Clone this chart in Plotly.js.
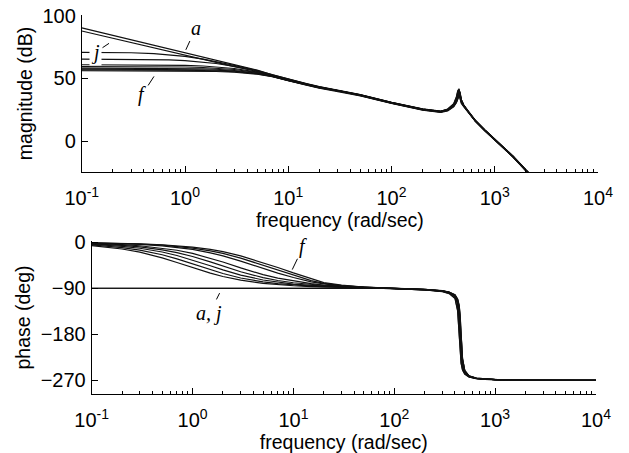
<!DOCTYPE html>
<html><head><meta charset="utf-8">
<script src="https://cdn.plot.ly/plotly-3.0.1.min.js"></script>
<style>html,body{margin:0;padding:0;background:#fff}</style>
</head><body><div id="chart" style="width:629px;height:453px"></div>
<script>
// frequency grid (rad/sec)
const freq = [0.1, 0.15, 0.2, 0.3, 0.5, 0.7, 1, 1.5, 2, 3, 5, 7, 10, 15, 20, 30, 50, 100, 200, 300, 350, 400, 425, 440, 450, 460, 475, 500, 550, 650, 800, 1000, 1500, 2000, 2500, 5000, 10000];

// magnitude (dB), curves a..j
const magA = [90.5, 87.0, 84.5, 81.0, 76.5, 73.6, 70.6, 67.1, 64.6, 61.1, 56.7, 53.0, 49.4, 45.9, 43.5, 40.9, 37.1, 31.0, 25.7, 23.9, 25.3, 29.0, 33.0, 37.5, 42.0, 37.5, 32.5, 28.8, 24.0, 16.5, 9.0, 1.5, -12.0, -23.0, -31.0, null, null];
const magJ = [88.0, 84.6, 82.1, 78.7, 74.3, 71.4, 68.5, 65.1, 62.7, 59.5, 55.6, 52.4, 49.0, 45.6, 43.2, 40.6, 36.9, 30.8, 25.5, 23.7, 25.1, 28.7, 32.7, 37.2, 41.5, 37.2, 32.3, 28.6, 23.8, 16.3, 8.8, 1.3, -12.2, -23.2, -31.2, null, null];
const magB = [70.9, 70.9, 70.8, 70.6, 69.9, 69.1, 67.7, 65.5, 63.6, 60.5, 56.3, 52.9, 49.3, 45.8, 43.3, 40.7, 37.0, 30.9, 25.6, 23.8, 25.6, 29.8, 35.2, 40.8, 37.0, 33.5, 30.5, 27.8, 23.4, 16.0, 8.6, 1.1, -12.4, -23.4, -31.4, null, null];
const magC = [65.5, 65.5, 65.4, 65.4, 65.2, 64.9, 64.3, 63.2, 62.0, 59.7, 56.0, 52.6, 49.1, 45.6, 43.1, 40.5, 36.8, 30.7, 25.4, 23.6, 24.9, 28.5, 32.4, 36.8, 41.0, 37.0, 32.0, 28.4, 23.6, 16.1, 8.6, 1.1, -12.4, -23.4, -31.4, null, null];
const magD = [61.0, 61.0, 61.0, 61.0, 60.9, 60.8, 60.5, 60.0, 59.4, 58.0, 55.2, 52.3, 48.9, 45.4, 43.0, 40.4, 36.7, 30.6, 25.3, 23.5, 24.7, 28.0, 31.3, 34.5, 37.8, 39.8, 33.0, 29.0, 24.0, 16.4, 8.9, 1.4, -12.1, -23.1, -31.1, null, null];
const magE = [59.5, 59.5, 59.5, 59.4, 59.4, 59.3, 59.2, 58.8, 58.3, 57.2, 54.8, 52.1, 48.7, 45.3, 42.9, 40.3, 36.6, 30.5, 25.2, 23.4, 24.8, 28.4, 32.3, 36.6, 40.3, 36.6, 31.8, 28.2, 23.4, 15.9, 8.4, 0.9, -12.6, -23.6, -31.6, null, null];
const magG = [58.3, 58.3, 58.3, 58.3, 58.2, 58.2, 58.0, 57.8, 57.4, 56.4, 54.3, 51.9, 48.5, 45.1, 42.7, 40.2, 36.5, 30.4, 25.1, 23.3, 25.3, 29.5, 35.0, 40.0, 36.3, 33.0, 30.0, 27.5, 23.1, 15.8, 8.3, 0.8, -12.7, -23.7, -31.7, null, null];
const magH = [57.5, 57.5, 57.5, 57.5, 57.4, 57.4, 57.3, 57.0, 56.7, 55.9, 54.0, 51.7, 48.4, 45.0, 42.6, 40.1, 36.4, 30.3, 25.0, 23.2, 24.4, 27.7, 31.0, 34.2, 37.3, 39.0, 32.7, 28.8, 23.8, 16.2, 8.7, 1.2, -12.3, -23.3, -31.3, null, null];
const magI = [56.8, 56.8, 56.8, 56.8, 56.7, 56.7, 56.6, 56.4, 56.1, 55.4, 53.7, 51.6, 48.3, 44.9, 42.5, 40.0, 36.3, 30.2, 24.9, 23.1, 24.6, 28.2, 32.0, 36.2, 39.5, 36.0, 31.5, 28.0, 23.2, 15.7, 8.2, 0.7, -12.8, -23.8, -31.8, null, null];
const magF = [56.2, 56.2, 56.2, 56.2, 56.2, 56.1, 56.0, 55.8, 55.6, 55.0, 53.4, 51.4, 48.1, 44.7, 42.3, 39.8, 36.1, 30.0, 24.7, 22.9, 24.0, 27.4, 30.6, 33.8, 36.8, 38.5, 32.5, 28.6, 23.6, 16.0, 8.5, 1.0, -12.5, -23.5, -31.5, null, null];

// phase (deg), curves a..j
const phA = [-90, -90, -90, -90, -90, -90, -90, -90, -90, -90, -90, -90, -90, -90, -90, -90, -90, -90.4, -92.5, -95.5, -98.5, -105.5, -119, -144, -181, -217, -242, -255, -262.5, -266.5, -268, -269, -269.8, -270, -270, -270, -270];
const phJ = [-90, -90, -90, -90, -90, -90, -90, -90, -90, -90, -90, -90, -90, -90, -90, -90, -90, -90.4, -92.4, -95.3, -98.2, -105, -118, -142, -180, -215, -241, -254.5, -262.3, -266.4, -268, -269, -269.8, -270, -270, -270, -270];
const phB = [-6.7, -10.0, -13.2, -19.4, -30.5, -39.5, -49.6, -60.5, -67.0, -74.2, -80.3, -83.1, -85.1, -86.7, -87.6, -88.6, -89.4, -90.7, -93, -96.2, -100, -109, -133, -181, -218, -237, -250, -258, -263.5, -267, -268.3, -269.2, -269.8, -270, -270, -270, -270];
const phC = [-5.2, -7.8, -10.3, -15.3, -24.4, -32.5, -42.3, -53.7, -61.2, -69.9, -77.6, -81.1, -83.7, -85.8, -86.9, -88.0, -89.0, -90.5, -92.5, -95.5, -98.5, -105.5, -119, -144, -181, -217, -242, -255, -262.5, -266.5, -268, -269, -269.8, -270, -270, -270, -270];
const phD = [-3.9, -5.9, -7.9, -11.7, -19.0, -25.8, -34.6, -46.0, -54.0, -64.2, -73.8, -78.3, -81.8, -84.5, -85.9, -87.4, -88.6, -90.3, -92, -95, -97.5, -103, -112, -125, -145, -181, -228, -251, -261.5, -266, -267.8, -268.8, -269.7, -270, -270, -270, -270];
const phE = [-3.0, -4.5, -6.0, -9.0, -14.7, -20.2, -27.8, -38.3, -46.5, -57.7, -69.2, -74.8, -79.2, -82.8, -84.6, -86.6, -88.2, -90.5, -92.6, -95.6, -98.8, -106, -121, -148, -183, -219, -243, -255.5, -262.7, -266.6, -268.1, -269, -269.8, -270, -270, -270, -270];
const phG = [-2.3, -3.4, -4.6, -6.8, -11.3, -15.6, -21.8, -31.0, -38.7, -50.2, -63.4, -70.3, -76.0, -81.0, -83.8, -86.2, -88.0, -90.7, -93.2, -96.5, -100.5, -110, -135, -178, -216, -236, -249.5, -257.8, -263.4, -267, -268.3, -269.2, -269.8, -270, -270, -270, -270];
const phH = [-1.4, -2.1, -2.9, -4.3, -7.1, -9.9, -14.0, -20.6, -26.6, -36.9, -51.3, -60.3, -69.0, -77.5, -81.5, -85.5, -87.8, -90.3, -92.1, -95.2, -97.8, -103.5, -113, -127, -148, -183, -229, -251.5, -261.7, -266.1, -267.9, -268.9, -269.7, -270, -270, -270, -270];
const phI = [-1.1, -1.7, -2.3, -3.4, -5.7, -8.0, -11.3, -16.7, -21.8, -31.0, -45.0, -54.5, -65.0, -75.0, -80.5, -85.0, -87.8, -90.5, -92.5, -95.4, -98.3, -105, -117, -140, -178, -214, -240, -254.5, -262.3, -266.4, -268, -269, -269.8, -270, -270, -270, -270];
const phF = [-1.0, -1.4, -1.9, -2.9, -4.8, -6.7, -9.5, -14.0, -18.4, -26.6, -39.8, -49.4, -60.0, -72.0, -79.0, -84.0, -87.5, -90.3, -92, -94.8, -97.3, -102.5, -111, -123, -142, -179, -227, -250.5, -261.3, -265.9, -267.7, -268.8, -269.7, -270, -270, -270, -270];

const magSeries = [magA, magJ, magB, magC, magD, magE, magG, magH, magI, magF];
const phaseSeries = [phA, phJ, phB, phC, phD, phE, phG, phH, phI, phF];

// axis ticks
const majorTicks = [0.1, 1, 10, 100, 1000, 10000];
const majorTickText = ['10<sup>-1</sup>', '10<sup>0</sup>', '10<sup>1</sup>', '10<sup>2</sup>', '10<sup>3</sup>', '10<sup>4</sup>'];
const magTicks = [0, 50, 100];
const phaseTicks = [0, -90, -180, -270];
const phaseTickText = ['0', '\u221290', '\u2212180', '\u2212270'];
const minorTicks = [];
for (let d = 0.1; d < 10000; d *= 10) for (let k = 2; k <= 9; k++) minorTicks.push(+(d * k).toPrecision(3));

const FONT = 'Liberation Sans, Arial, Helvetica, sans-serif';
const SERIF = 'Liberation Serif, Times New Roman, serif';
const lineCol = '#111';

const traces = [];
magSeries.forEach(m => traces.push({x: freq, y: m, xaxis: 'x', yaxis: 'y', mode: 'lines', line: {color: lineCol, width: 1.2}, hoverinfo: 'skip', showlegend: false}));
phaseSeries.forEach(p => traces.push({x: freq, y: p, xaxis: 'x2', yaxis: 'y2', mode: 'lines', line: {color: lineCol, width: 1.2}, hoverinfo: 'skip', showlegend: false}));

function xax(domain, anchor) {
  return {type: 'log', range: [-1, 4], domain: domain, anchor: anchor,
    showline: true, linecolor: '#000', linewidth: 1, mirror: false,
    ticks: 'inside', ticklen: 6, tickwidth: 1, tickcolor: '#000',
    tickmode: 'array', tickvals: majorTicks, ticktext: majorTickText,
    minor: {tickmode: 'array', tickvals: minorTicks, ticks: 'inside', ticklen: 3, tickwidth: 1, tickcolor: '#000', showgrid: false},
    showgrid: false, zeroline: false, ticklabelstandoff: 8,
    tickfont: {family: FONT, size: 20, color: '#000'},
    title: {text: 'frequency (rad/sec)', font: {family: FONT, size: 19.5, color: '#000'}, standoff: 0}};
}
function yax(domain, anchor, range, tv, tt, title) {
  const o = {range: range, domain: domain, anchor: anchor,
    showline: true, linecolor: '#000', linewidth: 1, mirror: false,
    ticks: 'inside', ticklen: 6, tickwidth: 1, tickcolor: '#000',
    tickmode: 'array', tickvals: tv,
    showgrid: false, zeroline: false, ticklabelstandoff: 1,
    tickfont: {family: FONT, size: 20, color: '#000'},
    title: {text: title, font: {family: FONT, size: 19.5, color: '#000'}, standoff: 4}};
  if (tt) o.ticktext = tt;
  return o;
}

const annFont = {family: SERIF, size: 20, color: '#000'};
const arrowBase = {showarrow: true, arrowhead: 0, arrowwidth: 1, arrowcolor: '#000', font: annFont, standoff: 2, startstandoff: 1};
const layout = {
  width: 629, height: 453,
  margin: {l: 0, r: 0, t: 0, b: 0},
  paper_bgcolor: '#fff', plot_bgcolor: 'rgba(0,0,0,0)',
  xaxis: xax([0.1300, 0.9507], 'y'),
  yaxis: yax([0.6203, 0.9669], 'x', [-24.8, 100.8], magTicks, null, 'magnitude (dB)'),
  xaxis2: xax([0.1458, 0.9475], 'y2'),
  yaxis2: yax([0.1302, 0.4680], 'x2', [-297, 2.5], phaseTicks, phaseTickText, 'phase (deg)'),
  annotations: [
    Object.assign({xref: 'x', yref: 'y', x: 0, y: 71.5, text: '<i>a</i>', ax: 11, ay: -24}, arrowBase),
    Object.assign({xref: 'x', yref: 'y', x: -0.72, y: 79, text: '<i>j</i>', ax: -15, ay: 10, bgcolor: '#fff'}, arrowBase),
    Object.assign({xref: 'x', yref: 'y', x: -0.29, y: 53, text: '<i>f</i>', ax: -13, ay: 20}, arrowBase),
    Object.assign({xref: 'x2', yref: 'y2', x: 0.98, y: -57, text: '<i>f</i>', ax: 12, ay: -25}, arrowBase),
    Object.assign({xref: 'x2', yref: 'y2', x: 0.277, y: -96, text: '<i>a, j</i>', ax: -11, ay: 22}, arrowBase)
  ]
};

Plotly.newPlot('chart', traces, layout, {staticPlot: true, displayModeBar: false});
</script></body></html>
